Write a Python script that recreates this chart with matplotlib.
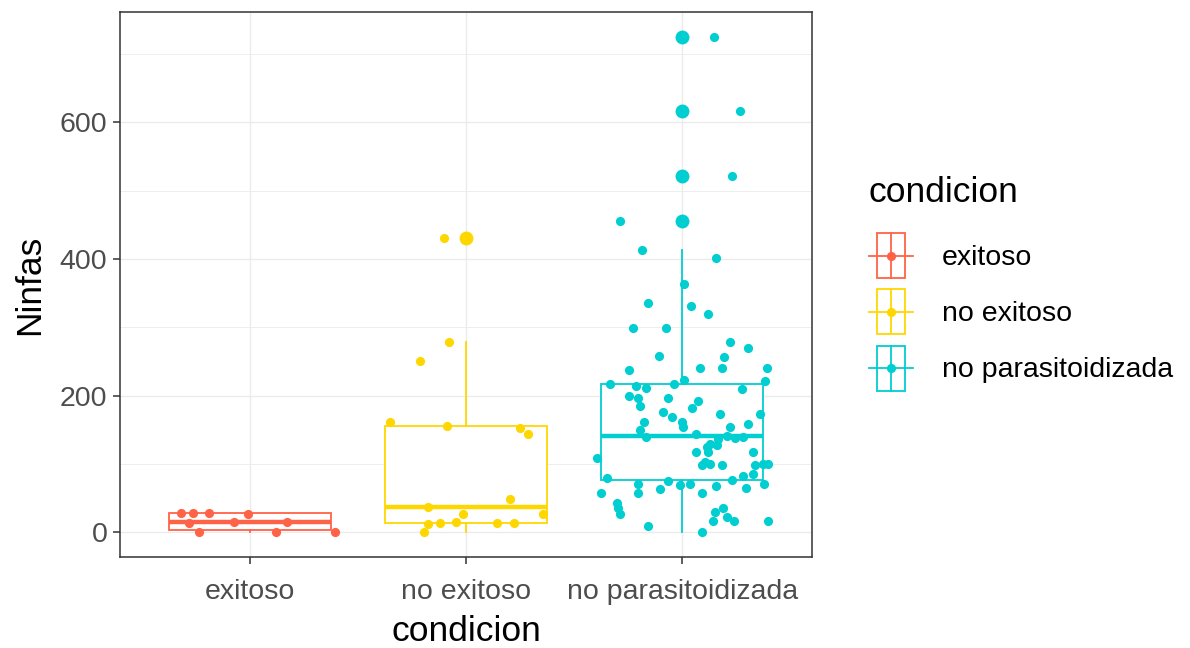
import numpy as np
import matplotlib
matplotlib.use("Agg")
import matplotlib.pyplot as plt
from matplotlib.legend_handler import HandlerBase
from matplotlib.patches import Rectangle
from matplotlib.lines import Line2D

# ---------------- data ----------------
categories = ["exitoso", "no exitoso", "no parasitoidizada"]
colors = ["#FF6347", "#FFD700", "#00CED1"]

exitoso_values = [28, 28, 28, 13, 0, 15, 26, 0, 15, 0]
exitoso_jitter = [-0.318, -0.263, -0.189, -0.281, -0.235, -0.074, -0.009, 0.120, 0.171, 0.392]

no_exitoso_values = [431, 279, 250, 162, 156, 153, 144, 48, 37, 27, 27, 12, 0, 13, 15, 13, 13]
no_exitoso_jitter = [-0.101, -0.078, -0.212, -0.350, -0.088, 0.249, 0.286, 0.203, -0.175,
                     -0.014, 0.355, -0.175, -0.194, -0.120, -0.046, 0.143, 0.221]

no_parasit_values = [725, 617, 521, 456, 413, 401,
                     363, 335, 331, 319, 299, 299, 279, 270, 257, 258,
                     238, 240, 240, 240, 223, 217, 217, 221, 214, 211,
                     209, 200, 197, 196, 185, 192, 182, 176, 168, 173,
                     173, 161, 161, 154, 149, 159, 154, 140, 144, 141,
                     138, 139, 137, 129, 125, 127, 109, 117, 117, 117,
                     103, 98, 100, 98, 98, 100, 100, 80, 77, 82,
                     85, 71, 75, 69, 71, 67, 71, 57, 57, 63,
                     57, 65, 43, 36, 27, 30, 35, 16, 22, 16,
                     16, 9, 0]
no_parasit_jitter = [0.147, 0.267, 0.230, -0.286, -0.184, 0.157,
                     0.009, -0.157, 0.041, 0.120, -0.230, -0.074, 0.221, 0.304, 0.194, -0.106,
                     -0.244, 0.083, 0.184, 0.392, 0.009, -0.332, -0.037, 0.382, -0.212, -0.166,
                     0.276, -0.244, -0.065, -0.203, -0.194, 0.074, 0.046, -0.088, -0.046, 0.175,
                     0.359, -0.175, 0.000, 0.005, -0.194, 0.304, 0.221, -0.166, 0.065, 0.207,
                     0.244, 0.281, 0.166, 0.129, 0.115, 0.161, -0.392, 0.065, 0.120, 0.327,
                     0.106, 0.092, 0.129, 0.184, 0.336, 0.373, 0.396, -0.346, 0.230, 0.281,
                     0.327, -0.203, -0.065, -0.009, 0.037, 0.157, 0.378, -0.378, -0.203, -0.101,
                     0.092, 0.295, -0.304, -0.295, -0.286, 0.152, 0.189, 0.143, 0.207, 0.240,
                     0.396, -0.157, 0.092]

y_major = [0, 200, 400, 600]
y_minor = [100, 300, 500, 700]

groups = [(exitoso_values, exitoso_jitter),
          (no_exitoso_values, no_exitoso_jitter),
          (no_parasit_values, no_parasit_jitter)]

# ---------------- style ----------------
plt.rcParams['font.family'] = ['Liberation Sans', 'DejaVu Sans']
GRID = "#EBEBEB"
DARK = "#333333"
TICKTXT = "#4D4D4D"

fig = plt.figure(figsize=(11.9, 6.48), dpi=100)
ax = fig.add_axes([120 / 1190, 1 - 557 / 648, (812 - 120) / 1190, (557 - 12) / 648])

positions = [1, 2, 3]
for (vals, jit), pos, col in zip(groups, positions, colors):
    ax.boxplot([vals], positions=[pos], widths=0.75, patch_artist=True,
               showcaps=False, whis=1.5,
               boxprops=dict(facecolor="white", edgecolor=col, linewidth=1.3),
               whiskerprops=dict(color=col, linewidth=1.3),
               medianprops=dict(color=col, linewidth=3.2, solid_capstyle="butt"),
               flierprops=dict(marker="o", markerfacecolor=col, markeredgecolor=col,
                               markersize=10, markeredgewidth=0),
               zorder=2)
    ax.plot(pos + np.asarray(jit), vals, "o", color=col, markersize=6.6,
            markeredgewidth=0, zorder=3, linestyle="none")

ax.set_xlim(0.4, 3.6)
ax.set_ylim(-36.25, 761.25)
ax.set_xticks(positions)
ax.set_xticklabels(categories)
ax.set_yticks(y_major)
ax.set_yticks(y_minor, minor=True)

ax.set_axisbelow(True)
ax.grid(which="major", color=GRID, linewidth=1.0)
ax.grid(which="minor", axis="y", color=GRID, linewidth=0.6)
for sp in ax.spines.values():
    sp.set_color(DARK)
    sp.set_linewidth(1.1)
ax.tick_params(which="major", length=5, width=1.1, color=DARK,
               labelsize=20.5, labelcolor=TICKTXT, pad=4)
ax.tick_params(axis="x", which="major", pad=11)
ax.tick_params(which="minor", length=0)

ax.set_xlabel("condicion", fontsize=25.5, color="black", labelpad=7)
ax.set_ylabel("Ninfas", fontsize=25.5, color="black", labelpad=10)


# ---------------- legend ----------------
class BoxKeyHandler(HandlerBase):
    def create_artists(self, legend, orig_handle, xdescent, ydescent,
                       width, height, fontsize, trans):
        col = orig_handle.get_color()
        x0, y0 = -xdescent, -ydescent
        cx, cy = x0 + width / 2, y0 + height / 2
        bw = width * 0.65
        rect = Rectangle((cx - bw / 2, y0), bw, height, facecolor="white",
                         edgecolor=col, linewidth=1.3, transform=trans)
        hline = Line2D([x0, x0 + width], [cy, cy], color=col, linewidth=1.3, transform=trans)
        vline = Line2D([cx, cx], [y0, y0 + height], color=col, linewidth=1.3, transform=trans)
        dot = Line2D([cx], [cy], marker="o", markersize=6.6, color=col,
                     markeredgewidth=0, linestyle="none", transform=trans)
        return [rect, hline, vline, dot]


handles = [Line2D([], [], color=c) for c in colors]
leg = fig.legend(handles, categories, loc="upper left",
                 bbox_to_anchor=(869 / 1190, 1 - 176 / 648),
                 handler_map={Line2D: BoxKeyHandler()},
                 frameon=False, fontsize=20.5, title="condicion",
                 title_fontsize=25.5, alignment="left",
                 handlelength=1.55, handleheight=2.05, labelspacing=0.40,
                 handletextpad=1.02, borderpad=0, borderaxespad=0)
leg._legend_box.sep = 17.4

fig.savefig("out.png", dpi=100, facecolor="white")
